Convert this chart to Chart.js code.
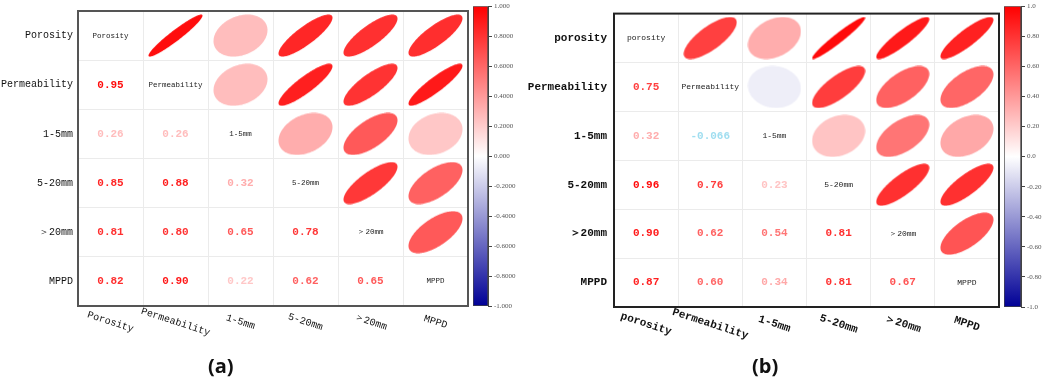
<!DOCTYPE html>
<html>
<head>
<meta charset="utf-8">
<script src="https://cdn.jsdelivr.net/npm/chart.js@4.4.1/dist/chart.umd.min.js"></script>
<style>
body { margin: 0; background: #fff; width: 1052px; height: 380px; overflow: hidden; position: relative; }
canvas { position: absolute; top: 0; }
.tag { position: absolute; top: 355px; font: bold 20px "Open Sans", sans-serif; line-height: 22px; color: #111; }
</style>
</head>
<body>
<canvas id="mA" width="470" height="380" style="left:0"></canvas>
<canvas id="cbA" width="56" height="380" style="left:470px"></canvas>
<canvas id="mB" width="475" height="380" style="left:526px"></canvas>
<canvas id="cbB" width="51" height="380" style="left:1001px"></canvas>
<div class="tag" style="left:208px">(a)</div>
<div class="tag" style="left:752px">(b)</div>
<script>
// ================= DATA =================
const varsA = ["Porosity", "Permeability", "1-5mm", "5-20mm", "＞20mm", "MPPD"];
const varsB = ["porosity", "Permeability", "1-5mm", "5-20mm", "＞20mm", "MPPD"];

// lower triangle, row i = variable i
const corrA = [
    [1],
    [0.95, 1],
    [0.26, 0.26, 1],
    [0.85, 0.88, 0.32, 1],
    [0.81, 0.80, 0.65, 0.78, 1],
    [0.82, 0.90, 0.22, 0.62, 0.65, 1]
];
const corrB = [
    [1],
    [0.75, 1],
    [0.32, -0.066, 1],
    [0.96, 0.76, 0.23, 1],
    [0.90, 0.62, 0.54, 0.81, 1],
    [0.87, 0.60, 0.34, 0.81, 0.67, 1]
];

const cbarTicksA = ["-1.000", "-0.8000", "-0.6000", "-0.4000", "-0.2000", "0.000", "0.2000", "0.4000", "0.6000", "0.8000", "1.000"];
const cbarTicksB = ["-1.0", "-0.80", "-0.60", "-0.40", "-0.20", "0.0", "0.20", "0.40", "0.60", "0.80", "1.0"];

// ================= COLOURS =================
function cmap(v) {
    if (v >= 0) {
        const c = Math.round(255 * (1 - v));
        return `rgb(255,${c},${c})`;
    }
    const t = -v;
    const c = Math.round(255 * (1 - t));
    return `rgb(${c},${c},${Math.round(255 - 105 * t)})`;
}
function textColor(v) {
    return v < 0 ? "rgb(160,222,240)" : cmap(v);
}
function fmt(v) {
    return Math.abs(v) < 0.1 ? v.toFixed(3) : v.toFixed(2);
}

// ================= ELLIPSE =================
function ellipseImg(v, w, h, color) {
    const c = document.createElement("canvas");
    c.width = w; c.height = h;
    const g = c.getContext("2d");
    const d = Math.acos(Math.max(-1, Math.min(1, v)));
    g.beginPath();
    for (let k = 0; k <= 160; k++) {
        const t = k / 160 * 2 * Math.PI;
        const px = w / 2 + (w / 2 - 0.5) * Math.cos(t + d / 2);
        const py = h / 2 - (h / 2 - 0.5) * Math.cos(t - d / 2);
        if (k) g.lineTo(px, py); else g.moveTo(px, py);
    }
    g.closePath();
    g.fillStyle = color;
    g.fill();
    return c;
}

// ================= MATRIX =================
function corrChart(id, vars, corr, st) {
    const pts = [];
    for (let i = 0; i < vars.length; i++)
        for (let j = i + 1; j < vars.length; j++)
            pts.push({ x: vars[j], y: vars[i], v: corr[j][i] });

    const cellText = {
        id: "cellText" + id,
        afterDatasetsDraw(chart) {
            const { ctx, chartArea: a, scales: { x, y } } = chart;
            ctx.save();
            ctx.strokeStyle = st.border;
            ctx.lineWidth = 2;
            ctx.strokeRect(a.left, a.top, a.right - a.left, a.bottom - a.top);
            ctx.textAlign = "center";
            ctx.textBaseline = "middle";
            vars.forEach((name, i) => {
                for (let j = 0; j <= i; j++) {
                    const px = x.getPixelForValue(j), py = y.getPixelForValue(i);
                    if (i === j) {
                        ctx.font = st.diagFont;
                        ctx.fillStyle = "#222";
                        ctx.fillText(name, px, py);
                    } else {
                        const v = corr[i][j];
                        ctx.font = st.numFont;
                        ctx.fillStyle = textColor(v);
                        ctx.fillText(fmt(v), px, py);
                    }
                }
            });
            // rotated x labels
            ctx.font = st.xFont;
            ctx.fillStyle = "#111";
            vars.forEach((name, j) => {
                ctx.save();
                ctx.translate(x.getPixelForValue(j), a.bottom + st.xOff);
                ctx.rotate(18 * Math.PI / 180);
                ctx.fillText(name, 0, 0);
                ctx.restore();
            });
            ctx.restore();
        }
    };

    return new Chart(document.getElementById(id), {
        type: "scatter",
        data: {
            datasets: [{
                data: pts,
                pointStyle: c => {
                    if (!c.raw) return "circle";
                    const cw = c.chart.scales.x.width / vars.length;
                    const ch = c.chart.scales.y.height / vars.length;
                    return ellipseImg(c.raw.v, Math.round(cw - 10), Math.round(ch - 6), cmap(c.raw.v));
                },
                pointRadius: 1
            }]
        },
        options: {
            responsive: false,
            animation: false,
            events: [],
            layout: { autoPadding: false, padding: { top: st.top, right: 2 } },
            plugins: { legend: { display: false }, tooltip: { enabled: false } },
            scales: {
                x: {
                    type: "category", labels: vars, offset: true,
                    grid: { offset: true, color: "#ebebeb", drawTicks: false },
                    border: { display: false },
                    ticks: { display: false },
                    afterFit: s => { s.height = st.xH; }
                },
                y: {
                    type: "category", labels: vars, offset: true,
                    grid: { offset: true, color: "#ebebeb", drawTicks: false },
                    border: { display: false },
                    ticks: { padding: st.yPad, color: "#111", autoSkip: false, font: st.yFont },
                    afterFit: s => { s.width = st.yW; }
                }
            }
        },
        plugins: [cellText]
    });
}

// ================= COLOUR BAR =================
function colorBar(id, labels, top, bottom, axisW) {
    return new Chart(document.getElementById(id), {
        type: "bar",
        data: {
            labels: [""],
            datasets: [{
                data: [[-1, 1]],
                backgroundColor: c => {
                    const a = c.chart.chartArea;
                    if (!a) return "red";
                    const g = c.chart.ctx.createLinearGradient(0, a.top, 0, a.bottom);
                    g.addColorStop(0, cmap(1));
                    g.addColorStop(0.5, cmap(0));
                    g.addColorStop(1, cmap(-1));
                    return g;
                },
                borderColor: "#444",
                borderWidth: 1,
                borderSkipped: false,
                barPercentage: 1,
                categoryPercentage: 1
            }]
        },
        options: {
            responsive: false,
            animation: false,
            events: [],
            layout: { autoPadding: false, padding: { left: 3, top: top, bottom: 380 - bottom } },
            plugins: { legend: { display: false }, tooltip: { enabled: false } },
            scales: {
                x: { display: false },
                y: {
                    position: "right", min: -1, max: 1,
                    ticks: {
                        stepSize: 0.2, autoSkip: false, padding: 2, color: "#555",
                        font: { family: "Liberation Serif", size: 7 },
                        callback: (v, i) => labels[i]
                    },
                    grid: { drawOnChartArea: false, tickLength: 4, color: "#444" },
                    border: { color: "#444" },
                    afterFit: s => { s.width = axisW; }
                }
            }
        }
    });
}

// 🚀 DRAW
corrChart("mA", varsA, corrA, {
    border: "#555", top: 5, xH: 74, yW: 78, yPad: 5, xOff: 16,
    yFont: { family: "Liberation Mono", size: 10 },
    xFont: "10px 'Liberation Mono'",
    diagFont: "7.5px 'Liberation Mono'",
    numFont: "bold 11px 'Liberation Mono'"
});
colorBar("cbA", cbarTicksA, 5, 306, 38);

corrChart("mB", varsB, corrB, {
    border: "#222", top: 6, xH: 73, yW: 88, yPad: 7, xOff: 17,
    yFont: { family: "Liberation Mono", size: 11, weight: "bold" },
    xFont: "bold 11px 'Liberation Mono'",
    diagFont: "8px 'Liberation Mono'",
    numFont: "bold 11px 'Liberation Mono'"
});
colorBar("cbB", cbarTicksB, 6, 307, 31);
</script>
</body>
</html>
